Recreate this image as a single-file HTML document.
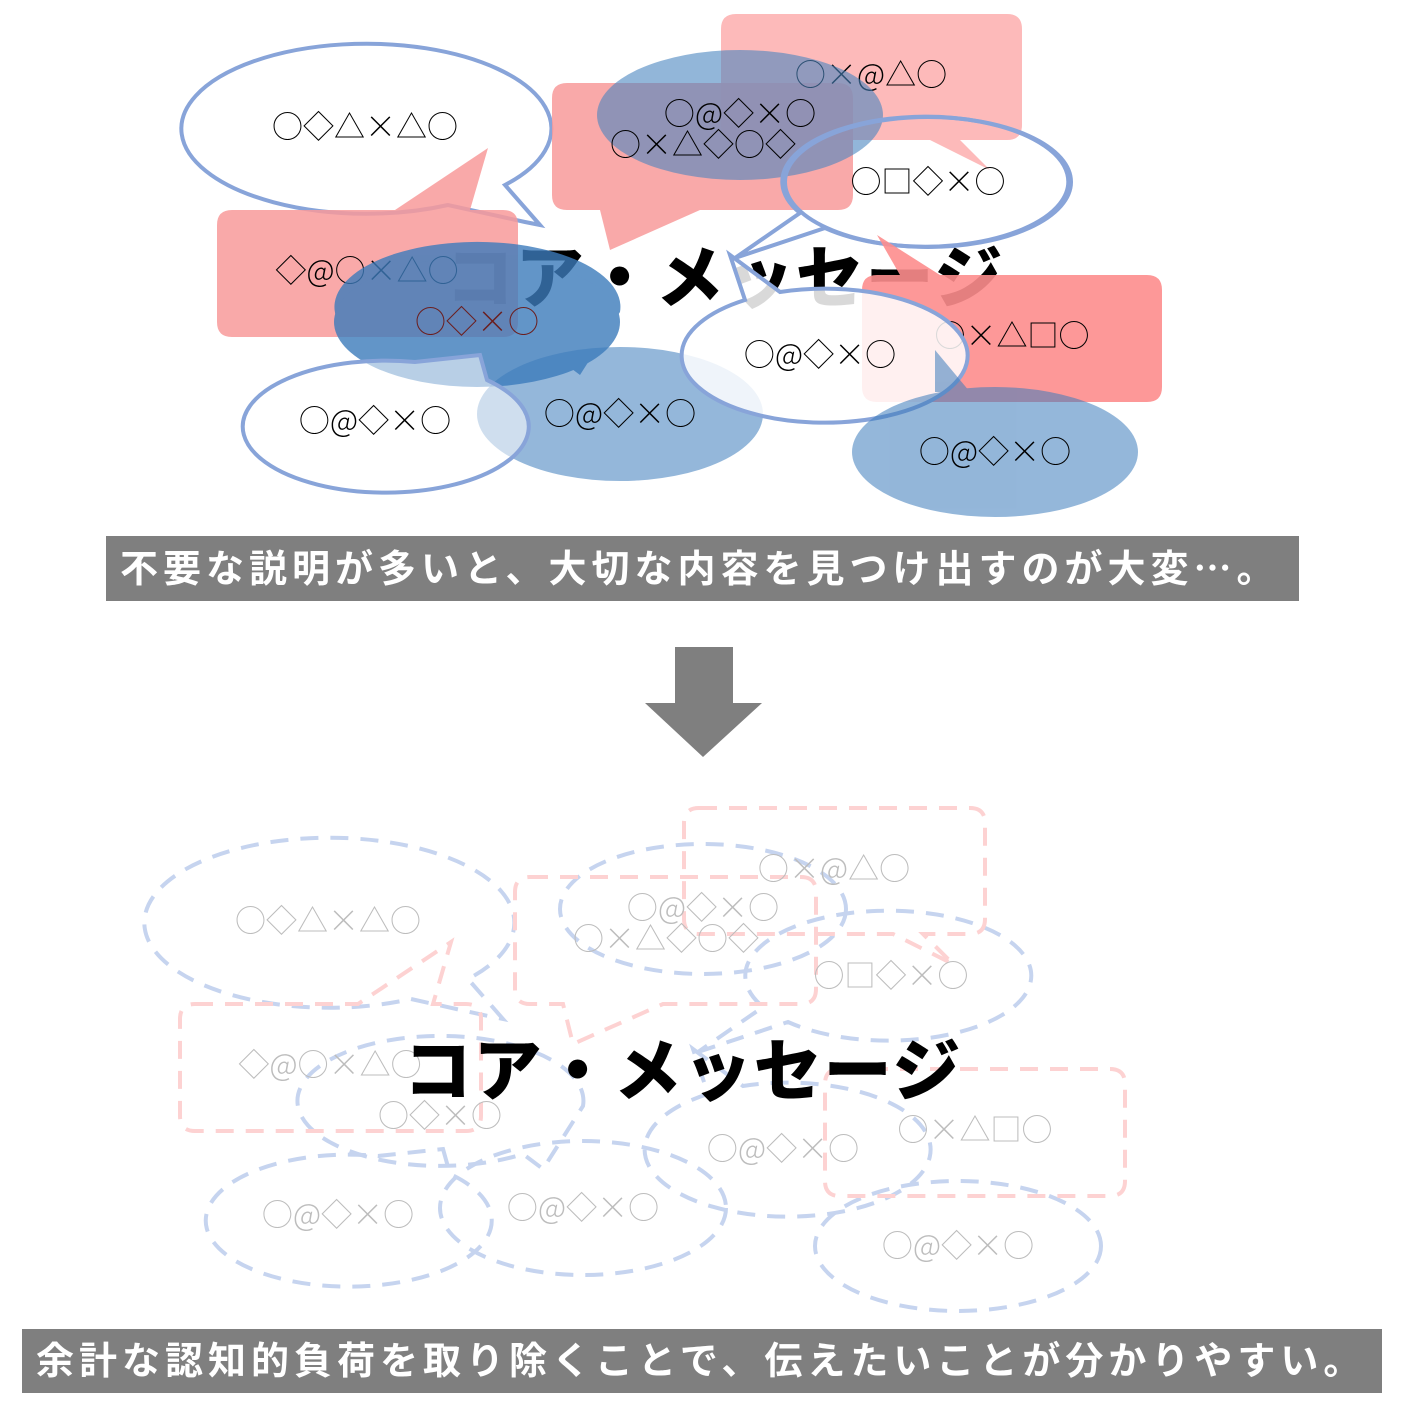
<!DOCTYPE html>
<html><head><meta charset="utf-8"><style>
html,body{margin:0;padding:0;background:#fff;}
svg{display:block;}
.s{font-family:"Noto Sans CJK JP",sans-serif;font-size:31px;font-weight:300;}
.t{font-family:"Noto Sans CJK JP",sans-serif;font-weight:900;font-size:68px;}
.c{font-family:"Noto Sans CJK JP",sans-serif;font-weight:700;font-size:38px;fill:#fff;}
</style></head><body>
<svg width="1406" height="1406" viewBox="0 0 1406 1406" xmlns="http://www.w3.org/2000/svg">

<!-- ===== TOP ===== -->
<g>
  <path d="M540,225 L505,185 A185,85 0 1 0 448,205 L525,222 Z" fill="#fff" stroke="#88a4d9" stroke-width="4"/>
  <text x="365" y="138" class="s" text-anchor="middle">○◇△×△○</text>
  <text x="725" y="302" class="t" text-anchor="middle" letter-spacing="2">コア・メッセージ</text>
  <g opacity="0.85"><path d="M232,210 L395,210 L488,148 L470,210 L503,210 Q518,210 518,225 L518,322 Q518,337 503,337 L232,337 Q217,337 217,322 L217,225 Q217,210 232,210Z" fill="#f89a9a"/></g>
  <text x="367" y="282" class="s" text-anchor="middle">◇@○×△○</text>
  <g opacity="0.85"><path d="M567,83 L838,83 Q853,83 853,98 L853,195 Q853,210 838,210 L700,210 L610,250 L600,210 L567,210 Q552,210 552,195 L552,98 Q552,83 567,83Z" fill="#f89a9a"/></g>
  <g opacity="0.75"><path d="M736,14 L1007,14 Q1022,14 1022,29 L1022,125 Q1022,140 1007,140 L960,140 L990,170 L930,140 L736,140 Q721,140 721,125 L721,29 Q721,14 736,14Z" fill="#fca3a3"/></g>
  <text x="871" y="86" class="s" text-anchor="middle">○×@△○</text>
  <g opacity="0.6"><ellipse cx="740" cy="115" rx="143" ry="65" fill="#4a86c0"/></g>
  <text x="740" y="125" class="s" text-anchor="middle">○@◇×○</text>
  <text x="703" y="156" class="s" text-anchor="middle">○×△◇○◇</text>
  <path d="M735,258 L825,228 A143,65 0 1 0 800,213 Z" fill="none" stroke="#88a4d9" stroke-width="4"/>
  <ellipse cx="928" cy="182" rx="143" ry="65" fill="none" stroke="#88a4d9" stroke-width="4"/>
  <text x="928" y="193" class="s" text-anchor="middle">○□◇×○</text>
  <g opacity="0.9"><path d="M877,275 L1147,275 Q1162,275 1162,290 L1162,387 Q1162,402 1147,402 L877,402 Q862,402 862,387 L862,290 Q862,275 877,275Z M877,235 L940,275 L900,275Z" fill="#fd8d8d"/></g>
  <text x="1012" y="347" class="s" text-anchor="middle">○×△□○</text>
  <g opacity="0.8"><path d="M620,312 A143,65 0 1 0 560,360 L580,375 Z" fill="#3c7bbb"/><ellipse cx="477" cy="322" rx="143" ry="65" fill="#3c7bbb"/></g>
  <text x="477" y="333" class="s" text-anchor="middle" fill="#6b1e1e">○◇×○</text>
  <g opacity="0.55"><ellipse cx="620" cy="414" rx="143" ry="67" fill="#3c7bbb"/></g>
  <text x="620" y="425" class="s" text-anchor="middle">○@◇×○</text>
  <path d="M480,355 L487,380 A143,66 0 1 1 415,362 Z" fill="#fff" fill-opacity="0.55" stroke="#88a4d9" stroke-width="4"/>
  <text x="375" y="432" class="s" text-anchor="middle">○@◇×○</text>
  <path d="M730,255 L780,292 A143,67 0 1 1 745,300 Z" fill="#fff" fill-opacity="0.85" stroke="#88a4d9" stroke-width="4"/>
  <text x="820" y="366" class="s" text-anchor="middle">○@◇×○</text>
  <g opacity="0.55"><path d="M935,350 L970,392 L935,392Z" fill="#3c7bbb"/><ellipse cx="995" cy="452" rx="143" ry="65" fill="#3c7bbb"/></g>
  <text x="995" y="463" class="s" text-anchor="middle">○@◇×○</text>
</g>

<rect x="106" y="536" width="1193" height="65" fill="#7f7f7f"/>
<text x="120" y="582" class="c" letter-spacing="5">不要な説明が多いと、大切な内容を見つけ出すのが大変…。</text>

<rect x="675" y="647" width="58" height="58" fill="#7f7f7f"/>
<polygon points="645,703 762,703 703,757" fill="#7f7f7f"/>

<!-- ===== BOTTOM ===== -->
<g transform="translate(-37,794)" fill="none" stroke-width="4" stroke-dasharray="18 12">
  <g stroke="#c6d4ef">
    <path d="M540,225 L505,185 A185,85 0 1 0 448,205 L525,222 Z"/>
    <ellipse cx="740" cy="115" rx="143" ry="65"/>
    <path d="M735,258 L825,228 A143,65 0 1 0 800,213 Z"/>
    <path d="M620,312 A143,65 0 1 0 560,360 L580,375 Z"/>
    <ellipse cx="620" cy="414" rx="143" ry="67"/>
    <path d="M480,355 L487,380 A143,66 0 1 1 415,362 Z"/>
    <path d="M730,255 L780,292 A143,67 0 1 1 745,300 Z"/>
    <ellipse cx="995" cy="452" rx="143" ry="65"/>
  </g>
  <g stroke="#fdd2d2">
    <path d="M232,210 L395,210 L488,148 L470,210 L503,210 Q518,210 518,225 L518,322 Q518,337 503,337 L232,337 Q217,337 217,322 L217,225 Q217,210 232,210Z"/>
    <path d="M567,83 L838,83 Q853,83 853,98 L853,195 Q853,210 838,210 L700,210 L610,250 L600,210 L567,210 Q552,210 552,195 L552,98 Q552,83 567,83Z"/>
    <path d="M736,14 L1007,14 Q1022,14 1022,29 L1022,125 Q1022,140 1007,140 L960,140 L990,170 L930,140 L736,140 Q721,140 721,125 L721,29 Q721,14 736,14Z"/>
    <path d="M877,275 L1147,275 Q1162,275 1162,290 L1162,387 Q1162,402 1147,402 L877,402 Q862,402 862,387 L862,290 Q862,275 877,275Z"/>
  </g>
  <g stroke="none" fill="#bdbdbd" class="s">
    <text x="365" y="138" text-anchor="middle">○◇△×△○</text>
    <text x="367" y="282" text-anchor="middle">◇@○×△○</text>
    <text x="871" y="86" text-anchor="middle">○×@△○</text>
    <text x="740" y="125" text-anchor="middle">○@◇×○</text>
    <text x="703" y="156" text-anchor="middle">○×△◇○◇</text>
    <text x="928" y="193" text-anchor="middle">○□◇×○</text>
    <text x="1012" y="347" text-anchor="middle">○×△□○</text>
    <text x="477" y="333" text-anchor="middle">○◇×○</text>
    <text x="620" y="425" text-anchor="middle">○@◇×○</text>
    <text x="375" y="432" text-anchor="middle">○@◇×○</text>
    <text x="820" y="366" text-anchor="middle">○@◇×○</text>
    <text x="995" y="463" text-anchor="middle">○@◇×○</text>
  </g>
</g>
<text x="683" y="1095" class="t" text-anchor="middle" letter-spacing="2">コア・メッセージ</text>

<rect x="22" y="1329" width="1360" height="64" fill="#7f7f7f"/>
<text x="36" y="1374" class="c" letter-spacing="5">余計な認知的負荷を取り除くことで、伝えたいことが分かりやすい。</text>
</svg>
</body></html>
